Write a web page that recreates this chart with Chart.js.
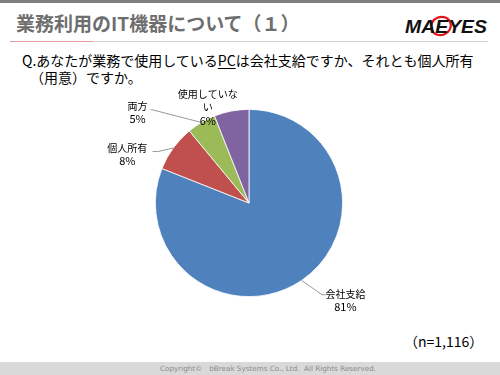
<!DOCTYPE html>
<html>
<head>
<meta charset="utf-8">
<script src="https://cdn.jsdelivr.net/npm/chart.js@4"></script>
<style>
    html, body { margin: 0; padding: 0; background: #fff; }
    #slide {
        position: relative; width: 500px; height: 375px; overflow: hidden;
        font-family: "Noto Sans CJK JP", "Noto Sans", sans-serif; color: #000;
    }
    #topbar { position: absolute; left: 0; top: 0; width: 500px; height: 3px; background: #7f7f7f; }
    #title {
        position: absolute; left: 16px; top: 10px; font-size: 19px; font-weight: bold;
        color: #6e6e6e; white-space: nowrap; line-height: 26px;
    }
    #rule-red { position: absolute; left: 10px; top: 41px; width: 83px; height: 1px; background: #e79a9a; }
    #rule-gray { position: absolute; left: 93px; top: 41px; width: 395px; height: 1px; background: #d4d4d4; }
    #logo { position: absolute; left: 403px; top: 13px; }
    #question {
        position: absolute; left: 22px; top: 52px; font-size: 14px; line-height: 17px; white-space: nowrap;
    }
    #question u { text-decoration-thickness: 1px; text-underline-offset: 2px; }
    #question .indent { padding-left: 8px; }
    #n { position: absolute; left: 404px; top: 331px; font-size: 14px; white-space: nowrap; }
    #footer {
        position: absolute; left: 0; top: 362px; width: 500px; height: 13px; background: #d9d9d9;
        font-family: "DejaVu Sans", sans-serif; font-size: 7.2px; color: #8a8a8a;
        line-height: 13px; text-align: center; text-indent: 36px; white-space: nowrap;
    }
    #chart { position: absolute; left: 0; top: 0; }
</style>
</head>
<body>
<div id="slide">
    <div id="topbar"></div>
    <div id="title">業務利用のIT機器について（１）</div>
    <div id="rule-red"></div>
    <div id="rule-gray"></div>
    <svg id="logo" width="86" height="26" viewBox="0 0 86 26">
        <ellipse cx="38" cy="13" rx="10" ry="9" fill="none" stroke="#e3141b" stroke-width="2.2" transform="rotate(-20 38 13)"/>
        <text x="2" y="20" font-family="Liberation Sans, Arial, sans-serif" font-size="19" font-weight="900"
              font-style="italic" fill="#111" textLength="82" lengthAdjust="spacingAndGlyphs">MAEYES</text>
    </svg>
    <div id="question">Q.あなたが業務で使用している<u>PC</u>は会社支給ですか、それとも個人所有<br><span class="indent">（用意）ですか。</span></div>
    <div id="n">（n=1,116）</div>
    <div id="footer">Copyright©　bBreak Systems Co., Ltd.&nbsp; All Rights Reserved.</div>
    <canvas id="chart" width="500" height="375"></canvas>
</div>
<script>
const categories = ['会社支給', '個人所有', '両方', '使用していない'];
const shares = [81, 8, 5, 6];
const sliceColors = ['#4f81bd', '#c0504d', '#9bbb59', '#8064a2'];

// label placement in units of the pie radius, relative to its centre
const labelPlacement = [
    { at: [1.03, 1.04], leader: [[0.78, 0.98], [0.82, 0.98]] },
    { at: [-1.30, -0.52], leader: [[-0.97, -0.55], [-1.03, -0.55]] },
    { at: [-1.19, -0.97], leader: [[-1.05, -1.00]] },
    { at: [-0.44, -1.02], leader: null }
];

const wrapText = (ctx, text, maxWidth) => {
    const lines = [];
    let line = '';
    for (const ch of text) {
        if (line && ctx.measureText(line + ch).width > maxWidth) {
            lines.push(line);
            line = ch;
        } else {
            line += ch;
        }
    }
    if (line) lines.push(line);
    return lines;
};

// draws the category / percent labels with leader lines, excel style
const sliceLabelPlugin = {
    id: 'sliceLabelPlugin',
    afterDatasetsDraw(chart) {
        const ctx = chart.ctx;
        const meta = chart.getDatasetMeta(0);
        const lineH = 13;
        meta.data.forEach((arc, i) => {
            const p = labelPlacement[i];
            const r = arc.outerRadius;
            const cx = arc.x, cy = arc.y;
            const mid = (arc.startAngle + arc.endAngle) / 2;

            ctx.save();
            if (p.leader) {
                ctx.strokeStyle = '#7f7f7f';
                ctx.lineWidth = 0.8;
                ctx.beginPath();
                ctx.moveTo(cx + Math.cos(mid) * r, cy + Math.sin(mid) * r);
                p.leader.forEach(pt => ctx.lineTo(cx + pt[0] * r, cy + pt[1] * r));
                ctx.stroke();
            }

            ctx.font = '10px "Noto Sans CJK JP", sans-serif';
            ctx.fillStyle = '#000';
            ctx.textAlign = 'center';
            ctx.textBaseline = 'middle';
            const lines = wrapText(ctx, categories[i], 62);
            lines.push(shares[i] + '%');
            const lx = cx + p.at[0] * r;
            const ly = cy + p.at[1] * r - (lines.length - 1) * lineH / 2;
            lines.forEach((t, k) => {
                ctx.font = (k === lines.length - 1 ? '11px' : '10px') + ' "Noto Sans CJK JP", sans-serif';
                ctx.fillText(t, lx, ly + k * lineH);
            });
            ctx.restore();
        });
    }
};

new Chart(document.getElementById('chart'), {
    type: 'pie',
    data: {
        labels: categories,
        datasets: [{
            data: shares,
            backgroundColor: sliceColors,
            borderColor: '#ffffff',
            borderWidth: 0.8
        }]
    },
    options: {
        responsive: false,
        animation: false,
        layout: { padding: { left: 155, right: 157, top: 109, bottom: 78 } },
        plugins: {
            legend: { display: false },
            tooltip: { enabled: false }
        }
    },
    plugins: [sliceLabelPlugin]
});
</script>
</body>
</html>
